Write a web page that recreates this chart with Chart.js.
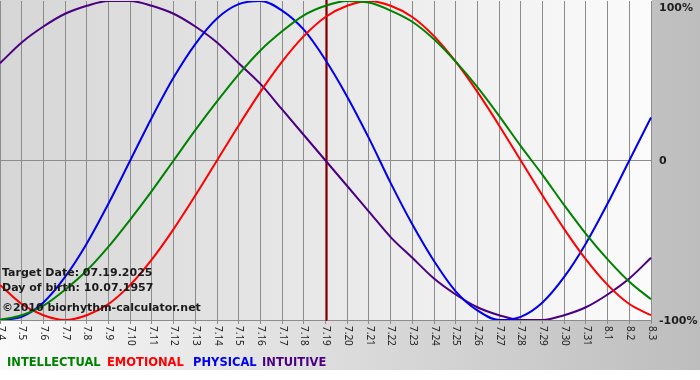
<!DOCTYPE html>
<html>
<head>
<meta charset="utf-8">
<script src="https://cdn.jsdelivr.net/npm/chart.js@4"></script>
<style>
  html, body { margin: 0; padding: 0; background: #ffffff; }
  #wrap { width: 700px; height: 380px; }
</style>
</head>
<body>
<div id="wrap"><canvas id="c" width="700" height="380"></canvas></div>
<script>
// ---- data ----
const dayLabels = ["7.4","7.5","7.6","7.7","7.8","7.9","7.10","7.11","7.12","7.13","7.14","7.15","7.16","7.17","7.18","7.19","7.20","7.21","7.22","7.23","7.24","7.25","7.26","7.27","7.28","7.29","7.30","7.31","8.1","8.2","8.3"];
const intellectual = [-100,-97,-91,-81,-69,-54,-37,-19,0,19,37,54,69,81,91,97,100,99,94,87,76,62,46,28,9,-9,-28,-46,-62,-76,-87];
const emotional = [-78,-90,-97,-100,-97,-90,-78,-62,-43,-22,0,22,43,62,78,90,97,100,97,90,78,62,43,22,0,-22,-43,-62,-78,-90,-97];
const physical = [-100,-98,-89,-73,-52,-27,0,27,52,73,89,98,100,94,82,63,40,14,-14,-40,-63,-82,-94,-100,-98,-89,-73,-52,-27,0,27];
const intuitive = [61,74,84,92,97,100,100,97,92,84,74,61,48,32,16,0,-16,-32,-48,-61,-74,-84,-92,-97,-100,-100,-97,-92,-84,-74,-61];
const seriesNames = ["INTELLECTUAL","EMOTIONAL","PHYSICAL","INTUITIVE"];
const yTickValues = [100, 0, -100];
const yTickLabels = ["100%", "0", "-100%"];
const targetLabel = "7.19";
const infoLines = ["Target Date: 07.19.2025", "Day of birth: 10.07.1957", "\u00A92010 biorhythm-calculator.net"];

const colors = {
  INTELLECTUAL: "#008000",
  EMOTIONAL: "#ff0000",
  PHYSICAL: "#0000ee",
  INTUITIVE: "#4b0082"
};

Chart.defaults.font.family = "'DejaVu Sans', Verdana, sans-serif";

const decor = {
  id: "decor",
  beforeDraw(chart) {
    const ctx = chart.ctx, a = chart.chartArea;
    ctx.save();
    const g = ctx.createLinearGradient(0, 0, 700, 0);
    g.addColorStop(0, "#f9f9f9");
    g.addColorStop(1, "#bdbdbd");
    ctx.fillStyle = g;
    ctx.fillRect(0, 0, 700, 370);
    ctx.fillStyle = "#ffffff";
    ctx.fillRect(0, 370, 700, 10);
    const pg = ctx.createLinearGradient(a.left, 0, a.right, 0);
    pg.addColorStop(0, "#d6d6d6");
    pg.addColorStop(1, "#fbfbfb");
    ctx.fillStyle = pg;
    ctx.fillRect(a.left, 0, a.right - a.left + 1, a.bottom + 1);
    ctx.restore();
  },
  beforeDatasetsDraw(chart) {
    const ctx = chart.ctx, a = chart.chartArea;
    const xs = chart.scales.x;
    const x = Math.round(xs.getPixelForValue(dayLabels.indexOf(targetLabel)));
    ctx.save();
    ctx.fillStyle = "#b85050";
    ctx.fillRect(x - 1, 0, 3, a.bottom + 1);
    ctx.fillStyle = "#6a0808";
    ctx.fillRect(x, 0, 1, a.bottom + 1);
    ctx.restore();
  },
  afterDraw(chart) {
    const ctx = chart.ctx, a = chart.chartArea;
    const xs = chart.scales.x, ys = chart.scales.y;
    ctx.save();
    ctx.font = "10px 'Noto Sans'";
    ctx.fillStyle = "#222222";
    ctx.textAlign = "left";
    ctx.textBaseline = "middle";
    dayLabels.forEach((lab, i) => {
      const x = xs.getPixelForTick(i);
      ctx.save();
      ctx.translate(x + 0.5, a.bottom + 6);
      ctx.rotate(Math.PI / 2);
      ctx.fillText(lab, 0, 0);
      ctx.restore();
    });
    ctx.font = "bold 11px 'DejaVu Sans'";
    ctx.fillStyle = "#1e1e1e";
    ctx.textBaseline = "middle";
    yTickValues.forEach((v, i) => {
      let y = ys.getPixelForValue(v);
      if (y < 7) y = 7;
      ctx.fillText(yTickLabels[i], a.right + 8, y + 1);
    });
    ctx.textBaseline = "alphabetic";
    ctx.fillStyle = "#1a1a1a";
    const infoY = [276, 291, 311];
    infoLines.forEach((t, i) => ctx.fillText(t, 2, infoY[i]));
    ctx.font = "bold 11.5px 'DejaVu Sans'";
    const legX = [7, 107, 193, 262];
    seriesNames.forEach((n, i) => {
      ctx.fillStyle = colors[n];
      ctx.fillText(n, legX[i], 366);
    });
    ctx.restore();
  }
};

const seriesData = [intellectual, emotional, physical, intuitive];

new Chart(document.getElementById("c"), {
  type: "line",
  data: {
    labels: dayLabels,
    datasets: seriesNames.map((n, i) => ({
      label: n,
      data: seriesData[i],
      borderColor: colors[n],
      borderWidth: 2,
      pointRadius: 0,
      fill: false,
      cubicInterpolationMode: "monotone"
    }))
  },
  options: {
    responsive: false,
    devicePixelRatio: 1,
    animation: false,
    layout: { autoPadding: false, padding: { left: 0, right: 49, top: 1, bottom: 56 } },
    plugins: { legend: { display: false }, tooltip: { enabled: false } },
    scales: {
      x: {
        type: "category",
        offset: false,
        border: { display: false },
        grid: { color: "#8c8c8c", lineWidth: 1, drawTicks: true, tickLength: 4 },
        ticks: { display: false, autoSkip: false }
      },
      y: {
        position: "right",
        min: -100,
        max: 100,
        border: { display: false },
        grid: {
          drawTicks: false,
          color: (c) => (c.tick && c.tick.value === 100 ? "rgba(0,0,0,0)" : "#8c8c8c")
        },
        ticks: { display: false, stepSize: 100 }
      }
    }
  },
  plugins: [decor]
});
</script>
</body>
</html>
